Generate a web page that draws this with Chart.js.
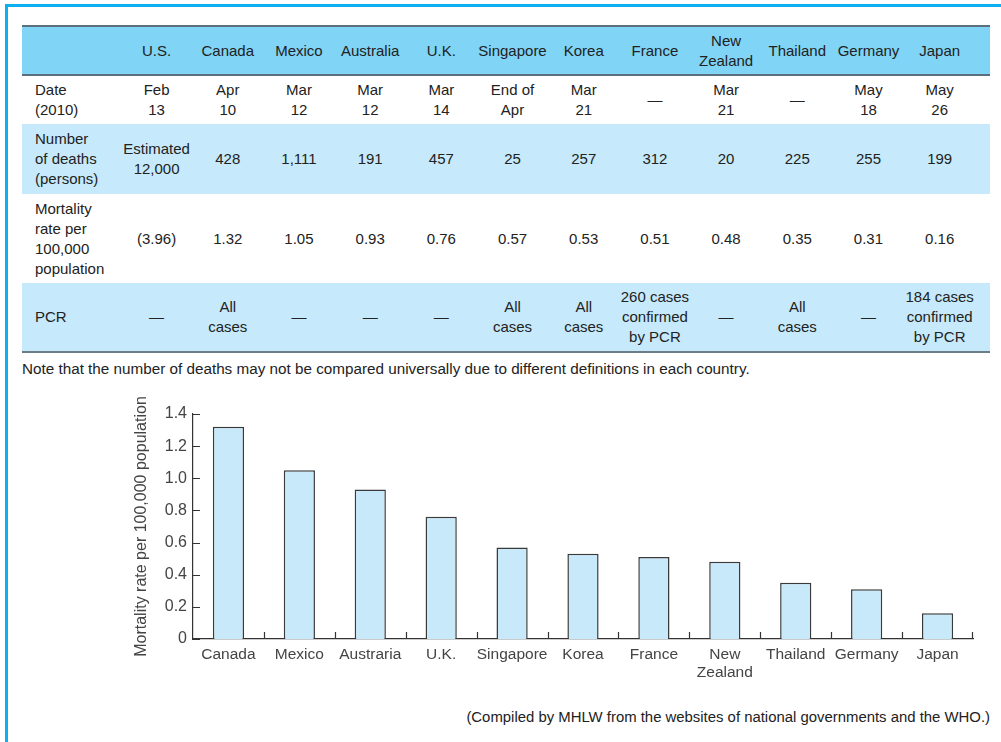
<!DOCTYPE html>
<html>
<head>
<meta charset="utf-8">
<script src="https://cdn.jsdelivr.net/npm/chart.js@4"></script>
<style>
  html, body { margin: 0; padding: 0; background: #fff; }
  body { width: 1001px; height: 742px; position: relative; overflow: hidden;
         font-family: "Liberation Sans", Arial, sans-serif; color: #222; }
  .frame { position: absolute; left: 5px; top: 4px; width: 1100px; height: 800px;
           border-top: 3px solid #0cb0ee; border-left: 3px solid #0cb0ee; }
  table { position: absolute; left: 22px; top: 25px; border-collapse: collapse;
          table-layout: fixed; width: 968px; font-size: 15px; line-height: 20px; }
  table td { text-align: center; padding: 0; vertical-align: middle; }
  table td.lab { text-align: left; padding-left: 13px; }
  tr.head { background: #80d4f6; height: 49px; border-top: 2px solid #5b6f7c; border-bottom: 2px solid #5b6f7c; }
  tr.r1 { height: 49px; }
  tr.r2 { height: 70px; background: #c6eafb; }
  tr.r3 { height: 89px; }
  tr.r4 { height: 69px; background: #c6eafb; border-bottom: 2px solid #6d7d87; }
  .note { position: absolute; left: 22px; top: 360px; font-size: 15.25px; }
  .src { position: absolute; right: 11px; top: 709px; font-size: 14.9px; }
  .chartbox { position: absolute; left: 120px; top: 395px; width: 860px; height: 295px; }
</style>
</head>
<body>
<div class="frame"></div>
<table id="tbl"></table>
<div class="note">Note that the number of deaths may not be compared universally due to different definitions in each country.</div>
<div class="chartbox"><canvas id="mort"></canvas></div>
<div class="src">(Compiled by MHLW from the websites of national governments and the WHO.)</div>
<script>
// table data
const tableCountries = ["U.S.", "Canada", "Mexico", "Australia", "U.K.", "Singapore", "Korea", "France", "New<br>Zealand", "Thailand", "Germany", "Japan"];
const tableDates = ["Feb<br>13", "Apr<br>10", "Mar<br>12", "Mar<br>12", "Mar<br>14", "End of<br>Apr", "Mar<br>21", "—", "Mar<br>21", "—", "May<br>18", "May<br>26"];
const tableDeaths = ["Estimated<br>12,000", "428", "1,111", "191", "457", "25", "257", "312", "20", "225", "255", "199"];
const tableRates = ["(3.96)", "1.32", "1.05", "0.93", "0.76", "0.57", "0.53", "0.51", "0.48", "0.35", "0.31", "0.16"];
const tablePCR = ["—", "All<br>cases", "—", "—", "—", "All<br>cases", "All<br>cases", "260 cases<br>confirmed<br>by PCR", "—", "All<br>cases", "—", "184 cases<br>confirmed<br>by PCR"];

// chart data
const categories = ["Canada", "Mexico", "Austraria", "U.K.", "Singapore", "Korea", "France", ["New", "Zealand"], "Thailand", "Germany", "Japan"];
const mortality = [1.32, 1.05, 0.93, 0.76, 0.57, 0.53, 0.51, 0.48, 0.35, 0.31, 0.16];

// build table
const tbl = document.getElementById("tbl");
let html = '<colgroup><col style="width:99px">';
for (let i = 0; i < 12; i++) html += '<col style="width:71.2px">';
html += '<col></colgroup>';
function row(cls, label, cells) {
    let s = '<tr class="' + cls + '"><td class="lab">' + label + '</td>';
    cells.forEach(c => { s += '<td>' + c + '</td>'; });
    return s + '<td></td></tr>';
}
html += row("head", "", tableCountries);
html += row("r1", "Date<br>(2010)", tableDates);
html += row("r2", "Number<br>of deaths<br>(persons)", tableDeaths);
html += row("r3", "Mortality<br>rate per<br>100,000<br>population", tableRates);
html += row("r4", "PCR", tablePCR);
tbl.innerHTML = html;

// short inward tick marks
const innerTicks = {
    id: "innerTicks",
    afterDraw(chart) {
        const c = chart.ctx, x = chart.scales.x, y = chart.scales.y;
        c.save();
        c.strokeStyle = "#333";
        c.lineWidth = 1.2;
        c.beginPath();
        y.ticks.forEach(t => {
            const py = Math.round(y.getPixelForValue(t.value)) + 0.5;
            c.moveTo(x.left, py);
            c.lineTo(x.left + 7, py);
        });
        for (let i = 1; i <= categories.length; i++) {
            const bx = i < categories.length
                ? Math.round((x.getPixelForTick(i - 1) + x.getPixelForTick(i)) / 2) + 0.5
                : x.right - 0.5;
            c.moveTo(bx, y.bottom);
            c.lineTo(bx, y.bottom - 7);
        }
        c.stroke();
        c.restore();
    }
};

new Chart(document.getElementById("mort"), {
    type: "bar",
    data: {
        labels: categories,
        datasets: [{
            data: mortality,
            backgroundColor: "#c8e9fa",
            borderColor: "#3a3a3a",
            borderWidth: { top: 1.5, left: 1.5, right: 1.5, bottom: 0 },
            borderSkipped: false,
            barPercentage: 0.44,
            categoryPercentage: 1
        }]
    },
    options: {
        responsive: true,
        maintainAspectRatio: false,
        animation: false,
        layout: { padding: { top: 19, right: 7, left: 0, bottom: 0 } },
        plugins: { legend: { display: false }, tooltip: { enabled: false } },
        scales: {
            x: {
                grid: { display: false, drawTicks: false },
                border: { display: true, color: "#333", width: 1.2 },
                ticks: { color: "#444", font: { family: "Liberation Sans", size: 15.5 }, padding: 6, maxRotation: 0, autoSkip: false },
                afterFit(s) { s.height = 51; }
            },
            y: {
                min: 0,
                max: 1.4,
                grid: { display: false, drawTicks: false },
                border: { display: true, color: "#333", width: 1.2 },
                ticks: {
                    stepSize: 0.2,
                    color: "#444",
                    padding: 6,
                    font: { family: "Liberation Sans", size: 16 },
                    callback: v => v === 0 ? "0" : v.toFixed(1)
                },
                title: {
                    display: true,
                    text: "Mortality rate per 100,000 population",
                    color: "#444",
                    font: { family: "Liberation Sans", size: 16 },
                    padding: { top: 12, bottom: 0 }
                },
                afterFit(s) { s.width = 73; }
            }
        }
    },
    plugins: [innerTicks]
});
</script>
</body>
</html>
